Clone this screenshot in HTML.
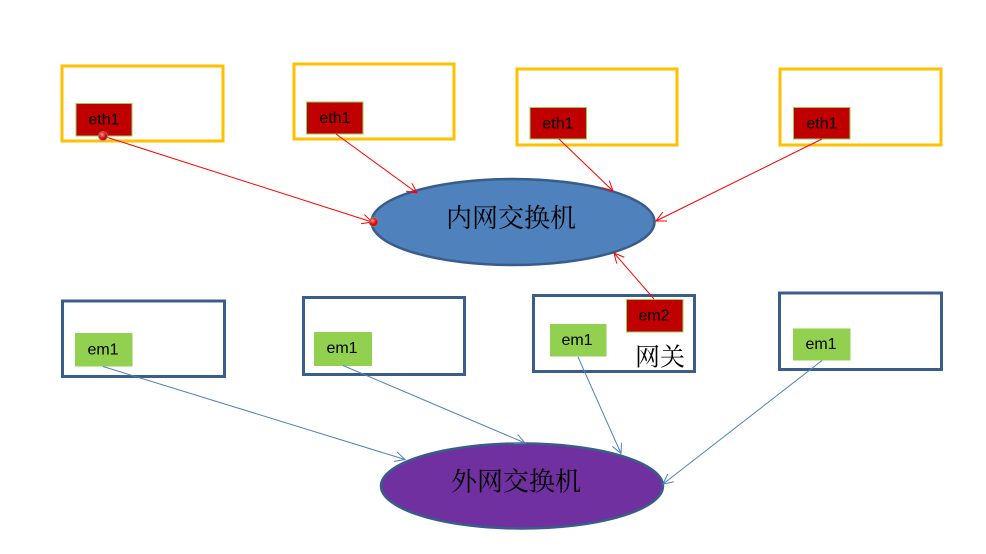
<!DOCTYPE html>
<html>
<head>
<meta charset="utf-8">
<style>
html,body{margin:0;padding:0;background:#fff;}
svg{display:block;}
.lat{font-family:"Liberation Sans","Noto Sans CJK SC",sans-serif;font-size:16px;fill:#000;}
.cjk{font-family:"Liberation Serif","Noto Serif CJK SC",serif;fill:#000;}
</style>
</head>
<body>
<svg width="986" height="554" viewBox="0 0 986 554" xmlns="http://www.w3.org/2000/svg">
<defs>
  <marker id="ar" markerWidth="12" markerHeight="12" refX="10" refY="5" orient="auto" markerUnits="userSpaceOnUse">
    <path d="M0,0 L10,5 L0,10" fill="none" stroke="#ff0000" stroke-width="1"/>
  </marker>
  <marker id="ab" markerWidth="12" markerHeight="12" refX="10" refY="5" orient="auto" markerUnits="userSpaceOnUse">
    <path d="M0,0 L10,5 L0,10" fill="none" stroke="#4f81bd" stroke-width="1"/>
  </marker>
  <radialGradient id="rd" cx="0.4" cy="0.35" r="0.7">
    <stop offset="0" stop-color="#ff9a9a"/>
    <stop offset="0.5" stop-color="#ee1111"/>
    <stop offset="1" stop-color="#aa0000"/>
  </radialGradient>
</defs>

<!-- top boxes -->
<rect x="62" y="66" width="161" height="75" fill="#fff" stroke="#ffc000" stroke-width="3"/>
<rect x="294" y="64" width="160" height="75" fill="#fff" stroke="#ffc000" stroke-width="3"/>
<rect x="517" y="69" width="160" height="76" fill="#fff" stroke="#ffc000" stroke-width="3"/>
<rect x="780" y="69" width="161" height="76" fill="#fff" stroke="#ffc000" stroke-width="3"/>

<!-- eth1 -->
<rect x="76" y="103.5" width="56" height="32.5" fill="#c00000" stroke="#92d050" stroke-width="1"/>
<text class="lat" x="104" y="120" text-anchor="middle" dominant-baseline="central">eth1</text>
<rect x="306.5" y="102" width="56.5" height="32" fill="#c00000" stroke="#92d050" stroke-width="1"/>
<text class="lat" x="335" y="118.5" text-anchor="middle" dominant-baseline="central">eth1</text>
<rect x="530" y="107.5" width="56.5" height="31.5" fill="#c00000" stroke="#92d050" stroke-width="1"/>
<text class="lat" x="558" y="124" text-anchor="middle" dominant-baseline="central">eth1</text>
<rect x="793.5" y="107.5" width="56.5" height="31.5" fill="#c00000" stroke="#92d050" stroke-width="1"/>
<text class="lat" x="822" y="124" text-anchor="middle" dominant-baseline="central">eth1</text>

<!-- inner switch -->
<ellipse cx="513" cy="222" rx="141.5" ry="43" fill="#4f81bd" stroke="#385d8a" stroke-width="2.5"/>
<text class="cjk" x="511" y="218.5" font-size="26" text-anchor="middle" dominant-baseline="central">内网交换机</text>

<!-- bottom boxes -->
<rect x="62.5" y="301" width="162" height="75.5" fill="#fff" stroke="#3b5d8c" stroke-width="3"/>
<rect x="303.5" y="297.5" width="161" height="77" fill="#fff" stroke="#3b5d8c" stroke-width="3"/>
<rect x="533.5" y="295.5" width="161" height="76" fill="#fff" stroke="#3b5d8c" stroke-width="3"/>
<rect x="779.5" y="293" width="162" height="76.5" fill="#fff" stroke="#3b5d8c" stroke-width="3"/>

<!-- em1 / em2 -->
<rect x="75" y="333" width="57.5" height="33.5" fill="#92d050"/>
<text class="lat" x="103" y="350" text-anchor="middle" dominant-baseline="central">em1</text>
<rect x="314" y="332" width="58" height="34" fill="#92d050"/>
<text class="lat" x="342" y="348.5" text-anchor="middle" dominant-baseline="central">em1</text>
<rect x="550" y="324" width="56.5" height="32.5" fill="#92d050"/>
<text class="lat" x="577" y="340.5" text-anchor="middle" dominant-baseline="central">em1</text>
<rect x="793" y="328.5" width="57.5" height="32" fill="#92d050"/>
<text class="lat" x="821" y="344.5" text-anchor="middle" dominant-baseline="central">em1</text>
<rect x="626.5" y="299.5" width="56.5" height="32.5" fill="#c00000" stroke="#92d050" stroke-width="1"/>
<text class="lat" x="654" y="316" text-anchor="middle" dominant-baseline="central">em2</text>
<text class="cjk" x="660" y="358" font-size="25" text-anchor="middle" dominant-baseline="central">网关</text>

<!-- outer switch -->
<ellipse cx="522" cy="486" rx="141" ry="42.5" fill="#7030a0" stroke="#385d8a" stroke-width="2.5"/>
<text class="cjk" x="516" y="482" font-size="26" text-anchor="middle" dominant-baseline="central">外网交换机</text>

<!-- red connectors -->
<line x1="103" y1="136" x2="372" y2="222" stroke="#ff0000" stroke-width="1" marker-end="url(#ar)"/>
<line x1="336" y1="134" x2="417" y2="193" stroke="#ff0000" stroke-width="1" marker-end="url(#ar)"/>
<line x1="559" y1="139" x2="613" y2="191" stroke="#ff0000" stroke-width="1" marker-end="url(#ar)"/>
<line x1="822" y1="139" x2="656" y2="221" stroke="#ff0000" stroke-width="1" marker-end="url(#ar)"/>
<line x1="654" y1="299" x2="614" y2="253" stroke="#ff0000" stroke-width="1" marker-end="url(#ar)"/>
<circle cx="103" cy="136" r="4.5" fill="url(#rd)" stroke="#888" stroke-width="0.8"/>
<circle cx="373.5" cy="222" r="4.5" fill="url(#rd)" stroke="#888" stroke-width="0.8"/>

<!-- blue connectors -->
<line x1="103" y1="366.5" x2="405" y2="459.5" stroke="#4f81bd" stroke-width="1" marker-end="url(#ab)"/>
<line x1="343" y1="365.5" x2="525" y2="443" stroke="#4f81bd" stroke-width="1" marker-end="url(#ab)"/>
<line x1="578" y1="357" x2="621" y2="453.5" stroke="#4f81bd" stroke-width="1" marker-end="url(#ab)"/>
<line x1="822" y1="360.5" x2="663" y2="484" stroke="#4f81bd" stroke-width="1" marker-end="url(#ab)"/>
</svg>
</body>
</html>
